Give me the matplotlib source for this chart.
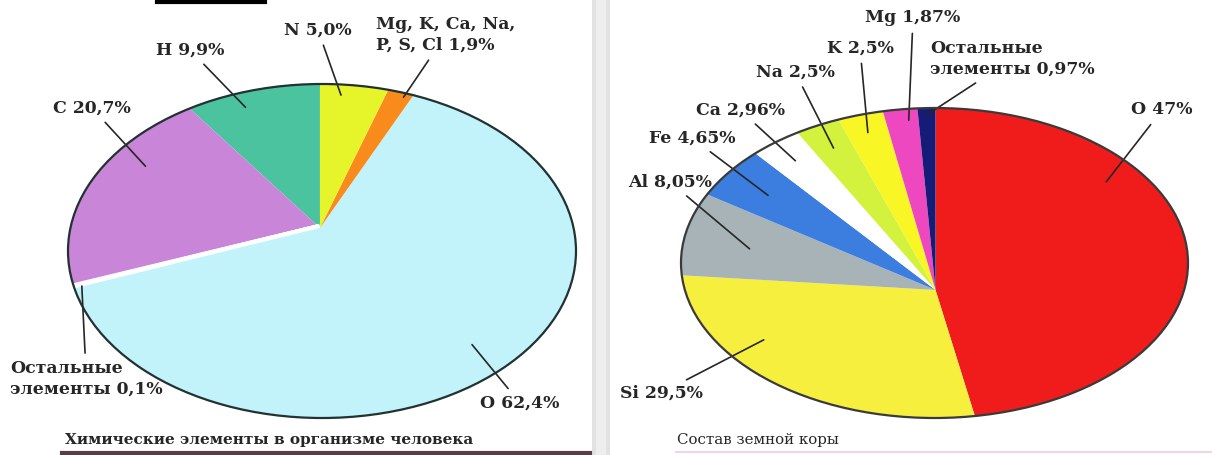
import numpy as np
import matplotlib
matplotlib.use("Agg")
import matplotlib.pyplot as plt
from matplotlib.patches import Circle, Rectangle
from matplotlib.lines import Line2D

# ==========================================
# Data
# ==========================================
human_labels = ["H 9,9%", "C 20,7%", "Остальные\nэлементы 0,1%", "O 62,4%",
                "Mg, K, Ca, Na,\nP, S, Cl 1,9%", "N 5,0%"]
human_values = [9.9, 20.7, 0.1, 62.4, 1.9, 5.0]
human_colors = ["#4cc39f", "#c985d7", "#ffffff", "#c2f2fa", "#f98b1c", "#e5f52a"]

crust_labels = ["O 47%", "Si 29,5%", "Al 8,05%", "Fe 4,65%", "Ca 2,96%",
                "Na 2,5%", "K 2,5%", "Mg 1,87%", "Остальные\nэлементы 0,97%"]
crust_values = [47, 29.5, 8.05, 4.65, 2.96, 2.5, 2.5, 1.87, 0.97]
crust_colors = ["#f01c1c", "#f6ef3e", "#a8b3b8", "#3c7ee0", "#ffffff",
                "#d2f23e", "#f9f626", "#ee48c0", "#141c78"]

human_title = "Химические элементы в организме человека"
crust_title = "Состав земной коры"

# ==========================================
# Layout (pixels, y measured from the top)
# ==========================================
W, H = 1212, 455
# label anchor inside wedge: (fraction of wedge angle, radius)
human_anchor = [(0.62, 0.78), (0.35, 0.78), (0.5, 1.0), (0.49, 0.92), (0.3, 0.85), (0.67, 0.8)]
human_text = [(190, 50, "center"), (92, 108, "center"), (10, 379, "left"), (520, 403, "center"),
              (376, 35, "left"), (318, 30, "center")]
crust_anchor = [(0.74, 0.97), (0.29, 0.75), (0.5, 0.78), (0.5, 0.9), (0.5, 1.0),
                (0.5, 1.0), (0.5, 1.05), (0.3, 1.1), (0.5, 1.13)]
crust_text = [(1162, 110, "center"), (661, 393, "center"), (670, 182, "center"),
              (692, 138, "center"), (740, 110, "center"), (795, 72, "center"),
              (860, 48, "center"), (913, 18, "center"), (930, 59, "left")]

ink = "#262626"
serif = ["DejaVu Serif"]


def draw_pie(box, apex, values, colors, labels, anchors, texts, counterclock, outline):
    x0, y_top, x1, y_bot = box
    ax = fig.add_axes([x0 / W, (H - y_bot) / H, (x1 - x0) / W, (y_bot - y_top) / H])
    wedges, _ = ax.pie(values, colors=colors, startangle=90, counterclock=counterclock,
                       radius=1.6, center=apex, wedgeprops=dict(linewidth=0))
    ax.set_aspect("auto")
    ax.set_xlim(-1, 1)
    ax.set_ylim(-1, 1)
    ax.axis("off")
    clip = Circle((0, 0), 1, transform=ax.transData)
    for w in wedges:
        w.set_clip_on(True)
        w.set_clip_path(clip)
    ax.add_patch(Circle((0, 0), 1, fill=False, edgecolor=outline, lw=1.6, zorder=5,
                        clip_on=False))

    for w, lab, (f, r), (tx, ty, ha) in zip(wedges, labels, anchors, texts):
        ang = np.deg2rad(w.theta1 + f * (w.theta2 - w.theta1))
        xy = (apex[0] + r * np.cos(ang), apex[1] + r * np.sin(ang))
        ax.annotate(lab, xy=xy, xycoords="data", xytext=(tx, H - ty),
                    textcoords="figure pixels", ha=ha, va="center", ma="left",
                    fontsize=12.4, fontweight="bold", family=serif, color=ink,
                    linespacing=1.3, annotation_clip=False,
                    arrowprops=dict(arrowstyle="-", color=ink, lw=1.2,
                                    shrinkA=3, shrinkB=0))
    return ax, wedges


fig = plt.figure(figsize=(W / 100, H / 100), dpi=100)
fig.patch.set_facecolor("white")

ax1, w1 = draw_pie((68, 84, 576, 418), (-0.008, 0.138), human_values, human_colors,
                   human_labels, human_anchor, human_text, True, "#223232")
# white gap for the tiny "other" slice on the human chart
w1[2].set_edgecolor("white")
w1[2].set_linewidth(6)

ax2, w2 = draw_pie((681, 108, 1188, 418), (0.004, -0.174), crust_values, crust_colors,
                   crust_labels, crust_anchor, crust_text, False, "#3a3a3a")

# captions and rules below them
fig.text(65 / W, (H - 440) / H, human_title, ha="left", va="center", fontsize=11,
         fontweight="bold", family=serif, color=ink)
fig.text(677 / W, (H - 440) / H, crust_title, ha="left", va="center", fontsize=10.8,
         family=serif, color=ink)
fig.add_artist(Line2D([62 / W, 590 / W], [(H - 453) / H] * 2, color="#5b3b45", lw=3))
fig.add_artist(Line2D([676 / W, 1.0], [(H - 452) / H] * 2, color="#f2d4ea", lw=1.5))

# cut-off heading underline at the top
fig.add_artist(Line2D([157 / W, 265 / W], [(H - 2) / H] * 2, color="black", lw=3))

# grey divider between the two pictures
fig.add_artist(Rectangle((592 / W, 0), 18 / W, 1, transform=fig.transFigure,
                         facecolor="#e2e2e2", edgecolor="none"))
fig.add_artist(Rectangle((596 / W, 0), 10 / W, 1, transform=fig.transFigure,
                         facecolor="#eeeeee", edgecolor="none"))

fig.savefig("out.png", dpi=100, facecolor="white")
